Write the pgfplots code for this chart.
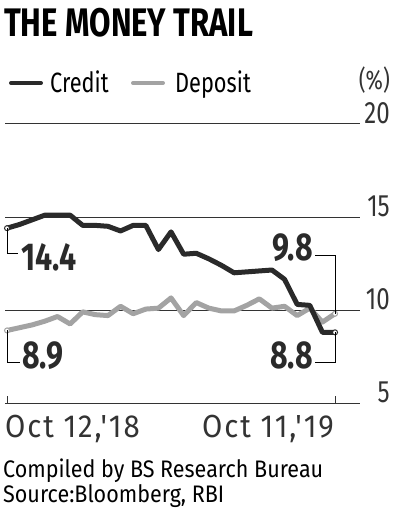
\documentclass[border=0pt]{standalone}
\usepackage{pgfplots}
\pgfplotsset{compat=1.18}
\usepackage{fontspec}
\setmainfont{Fira Sans}[FakeStretch=0.78]
\newfontfamily\wide{Fira Sans}[FakeStretch=0.9]
\newfontfamily\xl{Fira Sans}[FakeStretch=0.92, LetterSpace=6]
\definecolor{credit}{HTML}{2A2A2A}
\definecolor{deposit}{HTML}{A3A3A3}
\definecolor{gridc}{HTML}{333333}
\newcommand{\fs}[1]{\fontsize{#1}{#1}\selectfont}
\pgfplotstableread{
i credit deposit
0 14.4 8.9
1 14.6 9.05
2 14.85 9.2
3 15.1 9.4
4 15.1 9.65
5 15.1 9.25
6 14.55 9.9
7 14.55 9.75
8 14.5 9.7
9 14.25 10.2
10 14.55 9.8
11 14.55 10.05
12 13.25 10.1
13 14.2 10.65
14 13.0 9.7
15 13.05 10.4
16 12.75 10.1
17 12.4 9.95
18 12.0 9.95
19 12.05 10.25
20 12.1 10.6
21 12.15 10.1
22 11.65 10.2
23 10.3 9.7
24 10.25 10.1
25 8.8 9.35
26 8.8 9.8
}\datatable
\begin{document}
\begin{tikzpicture}[x=1bp,y=1bp]
\path[use as bounding box] (0,0) rectangle (399,-515);
\begin{axis}[
  at={(5bp,-403bp)}, anchor=south west,
  width=355bp, height=279bp, scale only axis,
  xmin=-0.16, xmax=27.98, ymin=5, ymax=20,
  axis line style={draw=none},
  major tick length=0pt,
  xtick=\empty,
  ytick={5,10,15,20},
  yticklabel pos=right,
  ymajorgrids,
  grid style={gridc, line width=1bp},
  /pgf/number format/assume math mode=true,
  yticklabel style={anchor=base east, xshift=30bp, yshift=1bp, inner sep=0pt, font=\fs{31}, text=gridc},
  clip=false,
]
\addplot[deposit, line width=5bp, line join=round] table[x=i, y=deposit] {\datatable};
\addplot[credit, line width=5bp, line join=round] table[x=i, y=credit] {\datatable};
\addplot[only marks, mark=*, mark size=2.5bp, mark options={fill=white, draw=credit, line width=1bp}] coordinates {(0,14.4) (26,8.8)};
\addplot[only marks, mark=*, mark size=2.5bp, mark options={fill=white, draw=deposit, line width=1bp}] coordinates {(0,8.9) (26,9.8)};
\coordinate (c0) at (axis cs:0,14.4);
\coordinate (d0) at (axis cs:0,8.9);
\coordinate (c1) at (axis cs:26,8.8);
\coordinate (d1) at (axis cs:26,9.8);
\coordinate (t0) at (axis cs:0,5);
\coordinate (t1) at (axis cs:26,5);
\end{axis}
% ticks on baseline
\draw[gridc, line width=1bp] (t0) -- ++(0,7);
\draw[gridc, line width=1bp] (t1) -- ++(0,7);
% annotation brackets
\draw[black, line width=0.8bp] (c0) |- (18,-253);
\draw[black, line width=0.8bp] (d0) |- (20,-362);
\draw[black, line width=0.8bp] (315,-255) -| (d1);
\draw[black, line width=0.8bp] (c1) |- (315,-362);
\node[anchor=base west, inner sep=0pt, text=credit] at (21,-270) {\fs{39}\bfseries 14.4};
\node[anchor=base west, inner sep=0pt, text=credit] at (22,-368) {\fs{39}\bfseries 8.9};
\node[anchor=base east, inner sep=0pt, text=credit] at (313,-260) {\fs{39}\bfseries 9.8};
\node[anchor=base east, inner sep=0pt, text=credit] at (313,-368) {\fs{39}\bfseries 8.8};
% title
\node[anchor=base west, inner sep=0pt] at (4,-37) {\fs{40}\bfseries THE MONEY TRAIL};
% legend
\draw[credit, line width=4bp, line cap=round] (11,-83) -- (41,-83);
\node[anchor=base west, inner sep=0pt] at (50,-93) {\fs{28}Credit};
\draw[deposit, line width=4bp, line cap=round] (133,-83) -- (163,-83);
\node[anchor=base west, inner sep=0pt] at (175,-93) {\fs{28}Deposit};
\node[anchor=base east, inner sep=0pt, text=gridc] at (390,-90) {\fs{27}(\%)};
% x labels
\node[anchor=base west, inner sep=0pt, text=gridc] at (5,-437) {\xl\fs{32}Oct 12,\char39 18};
\node[anchor=base east, inner sep=0pt, text=gridc] at (334,-437) {\xl\fs{32}Oct 11,\char39 19};
% source
\node[anchor=base west, inner sep=0pt, align=left, font=\wide\fontsize{24}{20}\selectfont] at (3,-502) {Compiled by BS Research Bureau\\Source:Bloomberg, RBI};
\end{tikzpicture}
\end{document}
